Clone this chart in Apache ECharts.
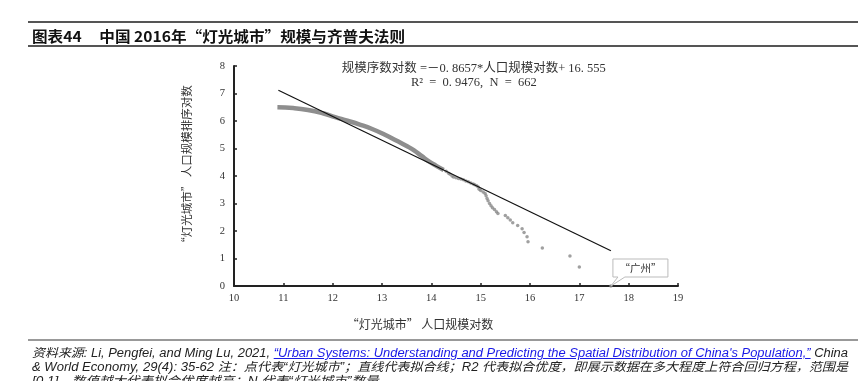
<!DOCTYPE html>
<html>
<head>
<meta charset="utf-8">
<script src="https://cdn.jsdelivr.net/npm/echarts@6/dist/echarts.min.js"></script>
<style>
  body { margin: 0; background: #fff; }
  #wrap { position: relative; width: 858px; height: 381px; overflow: hidden; }
  #chart { position: absolute; left: 0; top: 0; width: 858px; height: 381px; }
  .rule { position: absolute; left: 28px; right: 0; }
  .fit { position: absolute; white-space: nowrap; transform-origin: 0 50%; }
  #title { left: 32px; top: 25px; font: bold 14.5px "Noto Sans CJK SC", "Liberation Sans", sans-serif; color: #111; }
  .foot { left: 32px; font: italic 12px "Liberation Sans Narrow", "Liberation Sans", "Noto Sans CJK SC", sans-serif; color: #222; }
  .foot a { color: #1a1ae6; text-decoration: underline; }
</style>
</head>
<body>
<div id="wrap">
  <div id="chart"></div>
  <div class="rule" style="top:21px;height:2px;background:#555;"></div>
  <div class="rule" style="top:45px;height:2px;background:#555;"></div>
  <div id="title" class="fit" data-w="373">图表44&nbsp;&nbsp;&nbsp;&nbsp;&nbsp;中国 2016年“灯光城市”规模与齐普夫法则</div>
  <div class="rule" style="top:339px;height:2px;background:#999;"></div>
  <div class="fit foot" data-w="816" style="top:343px;">资料来源: Li, Pengfei, and Ming Lu, 2021, <a>“Urban Systems: Understanding and Predicting the Spatial Distribution of China's Population,”</a> China</div>
  <div class="fit foot" data-w="816" style="top:357px;">&amp; World Economy, 29(4): 35-62 注：点代表“灯光城市”；直线代表拟合线；R2 代表拟合优度，即展示数据在多大程度上符合回归方程，范围是</div>
  <div class="fit foot" data-w="360" style="top:371px;">[0,1]，数值越大代表拟合优度越高；N 代表“灯光城市”数量。</div>
</div>
<script>
// dense part of the rank-size curve
const bandX = [10.88, 11.2, 11.5, 11.8, 12.05, 12.3, 12.55, 12.8, 13.05, 13.3, 13.5, 13.65, 13.8, 13.95, 14.1, 14.25];
const bandY = [6.50, 6.47, 6.40, 6.28, 6.14, 6.01, 5.87, 5.71, 5.51, 5.28, 5.09, 4.93, 4.73, 4.53, 4.37, 4.22];

// individual cities where the dots separate
const dotX = [14.3, 14.35, 14.38, 14.42, 14.45, 14.5, 14.55, 14.6, 14.65, 14.7, 14.75, 14.8, 14.85, 14.88, 14.92, 14.95,
  14.97, 15.0, 15.05, 15.09, 15.11, 15.13, 15.15, 15.18, 15.21, 15.24, 15.28, 15.32, 15.35,
  15.5, 15.55, 15.6, 15.65, 15.75, 15.84, 15.88, 15.94, 15.96, 16.25, 16.81, 17.0, 17.64];
const dotY = [4.17, 4.10, 4.06, 4.00, 3.96, 3.94, 3.91, 3.89, 3.86, 3.82, 3.79, 3.75, 3.71, 3.68, 3.65, 3.60,
  3.52, 3.47, 3.42, 3.36, 3.28, 3.18, 3.10, 3.00, 2.92, 2.85, 2.78, 2.70, 2.64,
  2.56, 2.48, 2.40, 2.30, 2.20, 2.08, 1.95, 1.79, 1.61, 1.38, 1.09, 0.69, 0];

// fitted line: 16.555 - 0.8657 * x, drawn between its end points
const fitX = [10.9, 17.64];
const fitY = [7.119, 1.284];

const xTicks = {min: 10, max: 19, interval: 1};
const yTicks = {min: 0, max: 8, interval: 1};

const serif = '"Liberation Serif", "DejaVu Serif", "Noto Sans CJK SC", serif';
const cjk = '"Noto Sans CJK SC", sans-serif';

const chart = echarts.init(document.getElementById('chart'), null, {renderer: 'canvas'});

const axisCommon = {
  axisLine: {lineStyle: {color: '#222', width: 2}},
  axisTick: {inside: true, length: 3, lineStyle: {color: '#222', width: 1.5}},
  splitLine: {show: false},
  axisLabel: {color: '#333', fontFamily: serif, fontSize: 10.5},
};

chart.setOption({
  animation: false,
  grid: {left: 234, right: 180, top: 66, bottom: 95},
  xAxis: {
    type: 'value', ...xTicks, ...axisCommon,
    axisLabel: {...axisCommon.axisLabel, margin: 7},
    name: '“灯光城市” 人口规模对数', nameLocation: 'middle', nameGap: 32,
    nameTextStyle: {color: '#333', fontFamily: cjk, fontSize: 12, padding: [0, 72, 0, 0]},
  },
  yAxis: {
    type: 'value', ...yTicks, ...axisCommon,
    axisLabel: {...axisCommon.axisLabel, margin: 9},
    name: '“灯光城市” 人口规模排序对数', nameLocation: 'middle', nameGap: 42, nameRotate: 90,
    nameTextStyle: {color: '#333', fontFamily: cjk, fontSize: 11.5, padding: [0, 0, 0, 18]},
  },
  series: [
    {
      type: 'line', smooth: true, symbol: 'none',
      lineStyle: {color: '#8e8e8e', width: 4.5},
      data: bandX.map((x, i) => [x, bandY[i]]),
      z: 2,
    },
    {
      type: 'scatter', symbolSize: 3.5,
      itemStyle: {color: '#888'},
      data: dotX.map((x, i) => [x, dotY[i]]),
      z: 2,
    },
    {
      type: 'line', symbol: 'none',
      lineStyle: {color: '#111', width: 1.2},
      data: fitX.map((x, i) => [x, fitY[i]]),
      z: 3,
    },
  ],
});

// equation text and the 广州 callout, placed from the axis scales
const eqPos = chart.convertToPixel({gridIndex: 0}, [14.8, 8]);
const gz = chart.convertToPixel({gridIndex: 0}, [dotX[dotX.length - 1], dotY[dotY.length - 1]]);
const bx0 = gz[0] + 2, bx1 = gz[0] + 57, by0 = gz[1] - 27, by1 = gz[1] - 9;

chart.setOption({
  graphic: [
    {
      type: 'text', x: eqPos[0] + 3, y: eqPos[1] + 3,
      style: {text: '规模序数对数 =－0. 8657*人口规模对数+ 16. 555', fill: '#333', font: '12.5px ' + serif, textAlign: 'center', textVerticalAlign: 'middle'},
    },
    {
      type: 'text', x: eqPos[0] + 3, y: eqPos[1] + 17,
      style: {text: 'R²  =  0. 9476,  N  =  662', fill: '#333', font: '12.5px ' + serif, textAlign: 'center', textVerticalAlign: 'middle'},
    },
    {
      type: 'polygon', z: 10,
      shape: {points: [[bx0, by0], [bx1, by0], [bx1, by1], [bx0 + 12, by1], [gz[0], gz[1]], [bx0 + 5, by1], [bx0, by1]]},
      style: {fill: '#fff', stroke: '#bbb', lineWidth: 1},
    },
    {
      type: 'text', z: 11, x: (bx0 + bx1) / 2, y: (by0 + by1) / 2,
      style: {text: '“广州”', fill: '#333', font: '10.5px ' + cjk, textAlign: 'center', textVerticalAlign: 'middle'},
    },
  ],
});

// squeeze the html text lines to the widths they take in the picture
document.querySelectorAll('.fit').forEach(el => {
  const w = +el.dataset.w;
  const s = w / el.getBoundingClientRect().width;
  el.style.transform = 'scaleX(' + s + ')';
});
</script>
</body>
</html>
